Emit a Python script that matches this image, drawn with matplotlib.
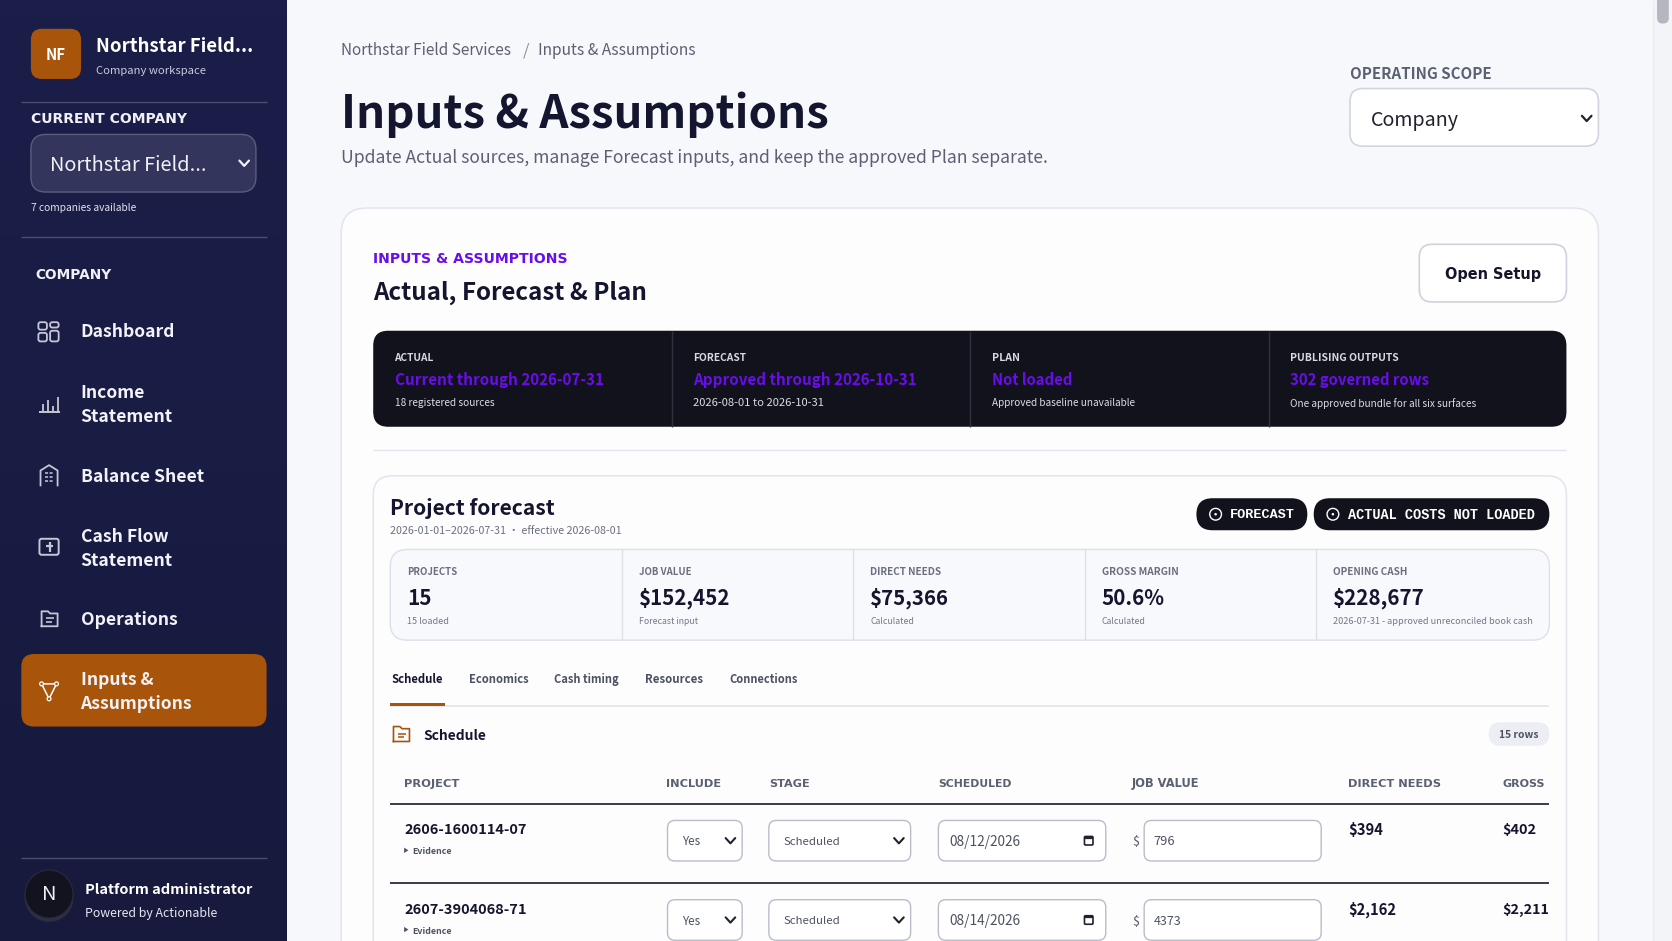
import matplotlib
matplotlib.use("Agg")
import matplotlib.pyplot as plt
import numpy as np
from matplotlib.colors import LinearSegmentedColormap
from matplotlib.patches import Circle, FancyBboxPatch, Polygon, Rectangle

SANS = ["Noto Sans CJK SC", "DejaVu Sans"]
plt.rcParams["font.family"] = SANS

# page contents
company = "Northstar Field..."
workspace = "Company workspace"
companies_note = "7 companies available"
nav_items = [["Dashboard"], ["Income", "Statement"], ["Balance Sheet"],
             ["Cash Flow", "Statement"], ["Operations"], ["Inputs &", "Assumptions"]]

status_labels = ["ACTUAL", "FORECAST", "PLAN", "PUBLISING OUTPUTS"]
status_values = ["Current through 2026-07-31", "Approved through 2026-10-31",
                 "Not loaded", "302 governed rows"]
status_notes = ["18 registered sources", "2026-08-01 to 2026-10-31",
                "Approved baseline unavailable", "One approved bundle for all six surfaces"]

kpi_labels = ["PROJECTS", "JOB VALUE", "DIRECT NEEDS", "GROSS MARGIN", "OPENING CASH"]
kpi_values = ["15", "$152,452", "$75,366", "50.6%", "$228,677"]
kpi_notes = ["15 loaded", "Forecast input", "Calculated", "Calculated",
             "2026-07-31 - approved unreconciled book cash"]

tabs = ["Schedule", "Economics", "Cash timing", "Resources", "Connections"]
columns = ["PROJECT", "INCLUDE", "STAGE", "SCHEDULED", "JOB VALUE", "DIRECT NEEDS", "GROSS"]
projects = ["2606-1600114-07", "2607-3904068-71"]
includes = ["Yes", "Yes"]
stages = ["Scheduled", "Scheduled"]
dates = ["08/12/2026", "08/14/2026"]
job_values = ["796", "4373"]
direct_needs = ["$394", "$2,162"]
gross = ["$402", "$2,211"]

NAVY = "#14152e"
GREY = "#5b6172"
PURPLE = "#6a0dec"
ORANGE = "#a9540b"
BLACK = "#11121c"
LINE = "#e2e5ed"

fig = plt.figure(figsize=(16.72, 9.41), dpi=100)
ax = fig.add_axes([0, 0, 1, 1])
ax.set_xlim(0, 1568)
ax.set_ylim(882, 0)
ax.axis("off")
renderer = fig.canvas.get_renderer()
PX = 0.768  # one reference px in points


def box(x0, y0, x1, y1, r=0, fc="white", ec="none", lw=1, z=2):
    p = FancyBboxPatch((x0 + r, y0 + r), x1 - x0 - 2 * r, y1 - y0 - 2 * r,
                       boxstyle="round,pad=%f,rounding_size=%f" % (r, r),
                       fc=fc, ec=ec, lw=lw, zorder=z)
    ax.add_patch(p)
    return p


def txt(x, y, s, size, color=NAVY, weight="normal", ha="left", w=None, family=None, z=6):
    # text sits a bit high with this font, more so when it is large
    t = ax.text(x, y + 0.4 + 0.07 * size, s, fontsize=size * PX, color=color, fontweight=weight,
                ha=ha, va="center", zorder=z)
    if family:
        t.set_fontfamily(family)
    if w:
        # scale the size so the string takes the same width as in the picture
        now = t.get_window_extent(renderer).width * 1568 / 1672
        t.set_fontsize(t.get_fontsize() * w / now)
    return t


def hline(x0, x1, y, color=LINE, lw=1, z=3):
    ax.plot([x0, x1], [y, y], color=color, lw=lw, zorder=z, solid_capstyle="butt")


def vline(x, y0, y1, color=LINE, lw=1, z=3):
    ax.plot([x, x], [y0, y1], color=color, lw=lw, zorder=z, solid_capstyle="butt")


def chevron(x, y, color="#20222f", s=4, lw=1.6):
    ax.plot([x - s, x, x + s], [y - s * 0.55, y + s * 0.55, y - s * 0.55], color=color,
            lw=lw, zorder=6, solid_capstyle="round", solid_joinstyle="round")


def select(x0, x1, y0, y1, label, w):
    box(x0, y0, x1, y1, 7, "white", "#b9bdcb", 1, z=4)
    txt(x0 + 14, (y0 + y1) / 2, label, 11.5, "#4d5263", w=w)
    chevron(x1 - 11, (y0 + y1) / 2, "#20222f", 4.5, 1.5)


# backgrounds
ax.add_patch(Rectangle((269, 0), 1299, 882, fc="#f7f8fc", ec="none", zorder=0))
ax.add_patch(Rectangle((1550, 0), 18, 882, fc="#f3f4f8", ec="none", zorder=1))
vline(1550, 0, 882, "#eceef3", 1, 1)
box(1554, -6, 1565, 22, 5, "#b4b7bf", z=2)
side = LinearSegmentedColormap.from_list("side", ["#1b1e49", "#171a3d"])
ax.imshow(np.linspace(0, 1, 64).reshape(-1, 1), cmap=side, extent=(0, 269, 882, 0),
          aspect="auto", zorder=1)
ax.set_xlim(0, 1568)
ax.set_ylim(882, 0)

# sidebar header
box(29, 27, 76, 74, 10, ORANGE)
txt(52.5, 50, "NF", 14, "white", "bold", ha="center")
txt(90, 42, company, 18, "white", "bold", w=147)
txt(90, 65, workspace, 11.5, "#c9cbd9", w=103)
hline(20, 250, 96, "#4b4d70")
txt(29, 110, "CURRENT COMPANY", 13, "#f0f0f6", "bold", w=147, family="DejaVu Sans")
box(29, 126, 240, 180, 14, "#33355c", "#5b5d7d")
txt(47, 153, company, 20, "#f1f1f6", w=147)
chevron(229, 153, "#f1f1f6", 4.5, 1.6)
txt(29, 194, companies_note, 10.5, "#e2e3ec", w=99)
hline(20, 250, 222, "#4b4d70")
txt(33, 256, "COMPANY", 13, "#f0f0f6", "bold", w=72, family="DejaVu Sans")

# sidebar items
nav_y = [310, 378, 446, 513, 580, 647]
box(20, 613, 250, 681, 12, ORANGE)
for lines, y in zip(nav_items, nav_y):
    if len(lines) == 1:
        txt(75.5, y, lines[0], 16.4, "#f2f2f7", "bold")
    else:
        txt(75.5, y - 11, lines[0], 16.4, "#f2f2f7", "bold")
        txt(75.5, y + 11, lines[1], 16.4, "#f2f2f7", "bold")

ic = "#c5c7d4"
for bx, by, bw, bh in [(36, 302, 8, 7), (47, 302, 8, 5), (36, 312, 8, 8), (47, 310, 8, 10)]:
    box(bx, by, bx + bw, by + bh, 2, "none", ic, 1.3, z=4)
hline(37, 56, 386, ic, 1.4)
for bx, top in [(40, 379), (45, 375), (50, 381), (54, 372)]:
    vline(bx, top, 386, ic, 1.3)
ax.plot([38, 38, 46, 54, 54], [455, 441, 436, 441, 455], color=ic, lw=1.3, zorder=4)
for gy in [443, 447, 451]:
    ax.plot([42, 45, 47, 50], [gy, gy, gy, gy], color=ic, lw=1.1, zorder=4, ls=(0, (2, 1)))
box(37, 505, 55, 520, 2, "none", ic, 1.4, z=4)
hline(43, 50, 512, ic, 1.6)
vline(46.5, 508, 517, ic, 1.6)
ax.plot([39, 39, 45, 47, 54, 54, 39], [587, 573, 573, 575, 575, 587, 587], color=ic, lw=1.3, zorder=4)
hline(43, 51, 579, ic, 1.2)
hline(43, 49, 583, ic, 1.2)
ax.plot([39, 53, 46, 39], [641, 641, 655, 641], color="white", lw=1.1, zorder=6)
for mx, my in [(39, 641), (53, 641), (46, 655)]:
    ax.add_patch(Circle((mx, my), 1.8, fc=ORANGE, ec="white", lw=0.9, zorder=7))

# sidebar footer
hline(20, 250, 804, "#4b4d70")
ax.add_patch(Circle((46, 841), 23, fc="#2d2e44", ec="none", zorder=3))
ax.add_patch(Circle((46, 838), 22.5, fc="#131320", ec="#2a2b3a", lw=0.8, zorder=4))
txt(46, 837, "N", 19, "#f2f2f2", ha="center")
txt(80, 833, "Platform administrator", 15, "white", "bold", w=158)
txt(80, 855, "Powered by Actionable", 12.5, "#e6e7ef", w=125)

# page heading
txt(320, 46, "Northstar Field Services", 15.5, GREY, w=160)
txt(490, 46, "/", 15.5, "#8b90a0")
txt(505, 46, "Inputs & Assumptions", 15.5, GREY, w=148)
txt(320, 104, "Inputs & Assumptions", 48, NAVY, "bold", w=457)
txt(320, 146, "Update Actual sources, manage Forecast inputs, and keep the approved Plan separate.",
    18, GREY, w=664)
txt(1266, 68, "OPERATING SCOPE", 13, GREY, "bold", w=132)
box(1266, 83, 1499, 137, 12, "white", "#d2d5df", 1.2)
txt(1286, 111, "Company", 20, "#20222f", w=83)
chevron(1488, 111, "#20222f", 4.5, 1.6)

# outer card
box(320, 195, 1499, 1000, 24, "#fdfdfe", "#e2e5ed", 1.1, z=2)
txt(350, 241, "INPUTS & ASSUMPTIONS", 13, PURPLE, "bold", w=183, family="DejaVu Sans")
txt(350, 272, "Actual, Forecast & Plan", 24, NAVY, "bold", w=257)
box(1331, 229, 1469, 283, 12, "white", "#cfd2dc", 1.2, z=3)
txt(1400, 256, "Open Setup", 16, "#14152a", "bold", ha="center", w=90, family="DejaVu Sans")

# status strip
status_label_w = [37, 50, 26, 102]
status_value_w = [196, 210, 75, 131]
status_note_w = [95, 123, 135, 176]
box(350, 310, 1469, 400, 14, BLACK, z=3)
for i in range(4):
    x = 370 + 280 * i
    if i:
        vline(x - 20, 310, 400, "#30313d", 1, 4)
    txt(x, 334, status_labels[i], 10.5, "#d8d8e0", "bold", w=status_label_w[i])
    txt(x, 355, status_values[i], 16, PURPLE, "bold", w=status_value_w[i])
    txt(x, 377, status_notes[i], 10.5, "#dcdce3", w=status_note_w[i])
hline(350, 1469, 422)

# project forecast card
box(350, 446, 1469, 1000, 18, "#fdfdfe", "#e2e5ed", 1.1, z=3)
txt(366, 475, "Project forecast", 22, NAVY, "bold", w=155)
txt(366, 497, "2026-01-01\u20132026-07-31 \u00b7 effective 2026-08-01", 11, "#6b7080", w=219)
box(1122, 467, 1226, 497, 15, BLACK, z=4)
box(1232, 467, 1453, 497, 15, BLACK, z=4)
for cx in [1140, 1250]:
    ax.add_patch(Circle((cx, 482), 5.5, fc="none", ec="white", lw=1, zorder=5))
    ax.add_patch(Circle((cx, 482), 1.2, fc="white", ec="none", zorder=5))
txt(1153, 481, "FORECAST", 13, "white", "bold", w=61, family="Liberation Mono")
txt(1264, 481, "ACTUAL COSTS NOT LOADED", 13, "white", "bold", w=178, family="Liberation Mono")

# kpi row
kpi_label_w = [47, 49, 67, 72, 70]
kpi_value_w = [23, 86, 74, 59, 86]
kpi_note_w = [39, 55, 41, 41, 185]
box(366, 515, 1453, 600, 16, "#f8f9fc", "#dde0e9", 1, z=4)
for i in range(5):
    x = 382 + 217.1 * i
    if i:
        vline(x - 16, 515, 600, "#dde0e9", 1, 5)
    txt(x, 535, kpi_labels[i], 9.5, "#6b7080", "bold", w=kpi_label_w[i])
    txt(x, 559, kpi_values[i], 22, NAVY, "bold", w=kpi_value_w[i])
    txt(x, 581, kpi_notes[i], 9.5, "#737888", w=kpi_note_w[i])

# tabs
tab_x = [367, 440, 520, 605, 684]
tab_w = [48, 56, 61, 54, 64]
for i, name in enumerate(tabs):
    txt(tab_x[i], 636, name, 11.5, NAVY if i == 0 else "#4d5263", "bold", w=tab_w[i])
hline(366, 1453, 662, "#dfe2ea", 1.1, 4)
ax.add_patch(Rectangle((366, 659), 51, 3.2, fc=ORANGE, ec="none", zorder=5))

# schedule table
ax.plot([369, 369, 375, 377, 384, 384, 369], [695, 681, 681, 683, 683, 695, 695], color=ORANGE, lw=1.2, zorder=5)
hline(373, 381, 688, ORANGE, 1.1, 5)
hline(373, 379, 691, ORANGE, 1.1, 5)
txt(397, 688, "Schedule", 14.5, NAVY, "bold", w=59)
box(1396, 677, 1453, 699, 11, "#eceef3", z=4)
txt(1424.5, 688, "15 rows", 10, "#4d5263", "bold", ha="center", w=37)

col_x = [379, 625, 721, 880, 1061, 1264, 1409]
col_w = [52, 52, 38, 69, 64, 87, 40]
for x, name, cw in zip(col_x, columns, col_w):
    txt(x, 733.5, name, 11.5, GREY, "bold", w=cw, family="DejaVu Sans")
hline(366, 1453, 754, "#2a2c40", 1.3, 4)
hline(366, 1453, 828, "#2a2c40", 1.3, 4)
direct_w = [33, 45]
gross_w = [32, 44]
job_w = [20, 26]
for i in range(2):
    y = 74.3 * i
    txt(379, 777 + y, projects[i], 14, NAVY, "bold", w=115)
    ax.add_patch(Polygon([(379, 794.5 + y), (383, 797 + y), (379, 799.5 + y)], closed=True,
                         fc="#4d5263", ec="none", zorder=5))
    txt(387, 797.5 + y, "Evidence", 8.5, "#4d5263", "bold", w=37)
    select(626, 696, 769 + y, 807 + y, includes[i], 17)
    select(721, 854, 769 + y, 807 + y, stages[i], 53)
    box(880, 769 + y, 1037, 807 + y, 7, "white", "#b9bdcb", 1, z=4)
    txt(890, 788 + y, dates[i], 11.5, "#4d5263", w=67)
    box(1017, 784 + y, 1025, 792 + y, 1, "none", "#20222f", 1.2, z=5)
    hline(1017, 1025, 785.5 + y, "#20222f", 1.6, 5)
    txt(1062, 788 + y, "$", 11.5, "#4d5263")
    box(1073, 769 + y, 1239, 807 + y, 7, "white", "#b9bdcb", 1, z=4)
    txt(1082, 788 + y, job_values[i], 11.5, "#4d5263", w=job_w[i])
    txt(1264, 777 + y, direct_needs[i], 14, NAVY, "bold", w=direct_w[i])
    txt(1409, 777 + y, gross[i], 14, NAVY, "bold", w=gross_w[i])

fig.savefig("out.png", dpi=100)
